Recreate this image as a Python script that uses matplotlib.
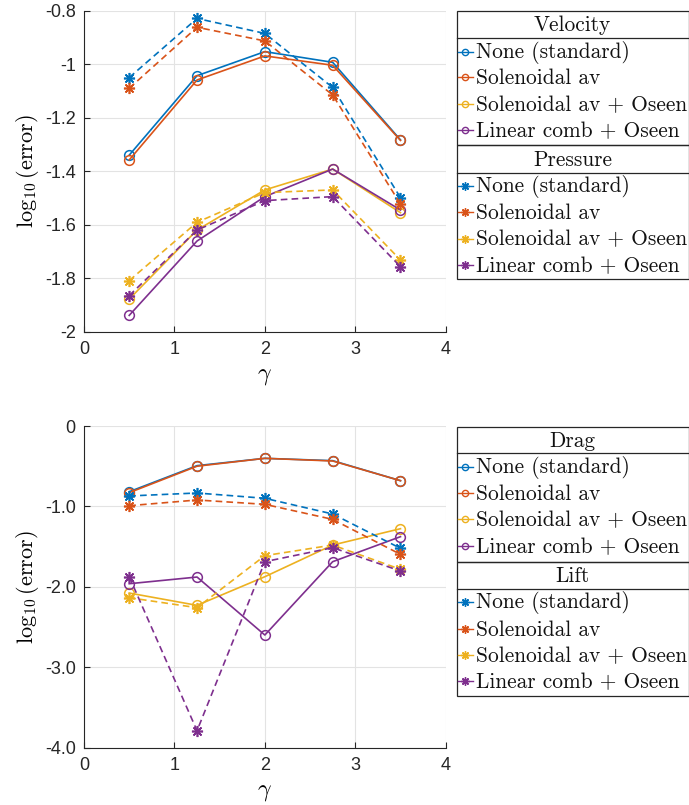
import matplotlib
matplotlib.use('Agg')
import matplotlib.pyplot as plt
from matplotlib.patches import Rectangle

plt.rcParams['mathtext.fontset'] = 'cm'
plt.rcParams['font.family'] = ['Liberation Sans', 'DejaVu Sans']

# data
gamma = [0.5, 1.25, 2.0, 2.75, 3.5]
methods = ['None (standard)', 'Solenoidal av', 'Solenoidal av + Oseen', 'Linear comb + Oseen']
colors = ['#0072BD', '#D95319', '#EDB120', '#7E2F8E']

velocity = [
    [-1.340, -1.043, -0.953, -0.993, -1.283],
    [-1.358, -1.059, -0.969, -1.004, -1.285],
    [-1.878, -1.620, -1.470, -1.392, -1.555],
    [-1.939, -1.661, -1.495, -1.392, -1.545],
]
pressure = [
    [-1.050, -0.829, -0.885, -1.087, -1.499],
    [-1.090, -0.862, -0.913, -1.115, -1.523],
    [-1.809, -1.591, -1.480, -1.470, -1.732],
    [-1.865, -1.620, -1.510, -1.495, -1.757],
]
drag = [
    [-0.817, -0.493, -0.402, -0.431, -0.680],
    [-0.829, -0.500, -0.402, -0.435, -0.680],
    [-2.077, -2.230, -1.874, -1.480, -1.277],
    [-1.961, -1.878, -2.599, -1.687, -1.376],
]
lift = [
    [-0.870, -0.833, -0.899, -1.094, -1.521],
    [-0.991, -0.920, -0.974, -1.161, -1.596],
    [-2.135, -2.259, -1.612, -1.480, -1.782],
    [-1.874, -3.789, -1.687, -1.513, -1.803],
]

top_yticks = [-2, -1.8, -1.6, -1.4, -1.2, -1, -0.8]
top_ylabels = ['-2', '-1.8', '-1.6', '-1.4', '-1.2', '-1', '-0.8']
bot_yticks = [-4, -3, -2, -1, 0]
bot_ylabels = ['-4.0', '-3.0', '-2.0', '-1.0', '0']
xticks = [0, 1, 2, 3, 4]

W, H = 689, 805
fig = plt.figure(figsize=(W / 100, H / 100), dpi=100)

ASTERISK = (8, 2, 0)


def px_axes(left, top, right, bottom):
    return fig.add_axes([left / W, 1 - bottom / H, (right - left) / W, (bottom - top) / H])


def style_axes(ax, yticks, ylabels, ylim):
    ax.set_xlim(0, 4)
    ax.set_ylim(*ylim)
    ax.set_xticks(xticks)
    ax.set_xticklabels([str(t) for t in xticks])
    ax.set_yticks(yticks)
    ax.set_yticklabels(ylabels)
    ax.grid(True, color='#e3e3e3', linewidth=0.8)
    ax.set_axisbelow(True)
    for s in ['top', 'right']:
        ax.spines[s].set_visible(False)
    for s in ['left', 'bottom']:
        ax.spines[s].set_color('#262626')
        ax.spines[s].set_linewidth(0.8)
    ax.tick_params(direction='in', length=4, width=0.8, color='#262626',
                   labelsize=13, labelcolor='#262626')
    ax.tick_params(axis='x', pad=7)
    ax.tick_params(axis='y', pad=6)
    ax.set_xlabel(r'$\gamma$', fontsize=17, labelpad=5)
    ax.set_ylabel(r'$\log_{10}(\mathrm{error})$', fontsize=16, labelpad=3)


def plot_group(ax, solid, dashed):
    for vals, c in zip(solid, colors):
        ax.plot(gamma, vals, '-', color=c, lw=1.2, marker='o', ms=7,
                mfc='none', mew=1.1)
    for vals, c in zip(dashed, colors):
        ax.plot(gamma, vals, '--', color=c, lw=1.2, marker=ASTERISK, ms=8,
                mew=1.2, dashes=(4, 2.5))


ax1 = px_axes(84, 10.7, 445.7, 331.7)
plot_group(ax1, velocity, pressure)
style_axes(ax1, top_yticks, top_ylabels, (-2, -0.8))

ax2 = px_axes(84, 426, 445.7, 747.7)
plot_group(ax2, drag, lift)
style_axes(ax2, bot_yticks, bot_ylabels, (-4, 0))

# legend blocks drawn in pixel space
lay = fig.add_axes([0, 0, 1, 1], zorder=5)
lay.set_xlim(0, W)
lay.set_ylim(H, 0)
lay.axis('off')

LX0, LX1 = 456.5, 688.5


def legend_block(top, sep, bottom, title, rows, marker):
    lay.add_patch(Rectangle((LX0, top), LX1 - LX0, bottom - top, fill=False,
                            edgecolor='#262626', lw=0.9))
    lay.plot([LX0, LX1], [sep, sep], color='#262626', lw=0.9)
    lay.text((LX0 + LX1) / 2, (top + sep) / 2 + 1, title, ha='center', va='center',
             fontsize=15.4, family='cmr10', color='#111111')
    for y, lab, c in zip(rows, methods, colors):
        lay.plot([457.5, 473], [y, y], '-', color=c, lw=1.0)
        if marker == 'o':
            lay.plot([465], [y], 'o', color=c, mfc='none', ms=4.5, mew=1.0)
        else:
            lay.plot([465], [y], marker=ASTERISK, color=c, ms=6, mew=1.0)
        lay.text(476, y + 1, lab, ha='left', va='center', fontsize=15.4,
                 family='cmr10', color='#111111')


legend_block(10.7, 38.3, 145, 'Velocity', [51.7, 77.3, 104, 130], 'o')
legend_block(145, 173, 279.3, 'Pressure', [185.7, 212, 238.7, 265], '*')
legend_block(427.3, 453.3, 561.7, 'Drag', [466.7, 493.3, 519.3, 546], 'o')
legend_block(561.7, 589.3, 696, 'Lift', [601.7, 629.3, 655.3, 681], '*')

fig.savefig('out.png', dpi=100)
